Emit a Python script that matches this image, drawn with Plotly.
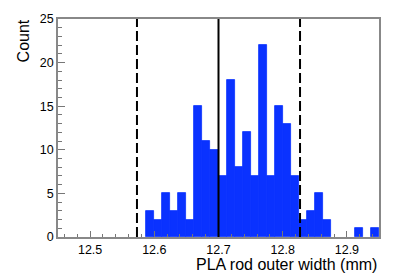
import numpy as np
import plotly.graph_objects as go

# Histogram data: 40 bins from 12.45 to 12.95 mm
bin_low = 12.45
bin_width = 0.0125
counts = [0, 0, 0, 0, 0, 0, 0, 0, 0, 0,
          0, 3, 2, 5, 3, 5, 2, 15, 11, 10,
          7, 18, 8, 12, 7, 22, 7, 15, 13, 7,
          2, 3, 5, 2, 0, 0, 0, 1, 0, 1]
nominal = 12.7
tol_low = 12.573
tol_high = 12.827
x_ticks = [12.5, 12.6, 12.7, 12.8, 12.9]
y_ticks = [0, 5, 10, 15, 20, 25]

centers = bin_low + bin_width * (np.arange(len(counts)) + 0.5)
bar_color = "#0a32ff"
edge_widths = [0.8 if c > 0 else 0 for c in counts]

fig = go.Figure()
fig.add_trace(go.Bar(
    x=centers, y=counts, width=bin_width,
    marker=dict(color=bar_color, line=dict(width=edge_widths, color=bar_color)),
    showlegend=False, hoverinfo="skip",
))

for xv, dash in [(tol_low, "10px,4px"), (nominal, "solid"), (tol_high, "10px,4px")]:
    fig.add_shape(type="line", xref="x", yref="y", x0=xv, x1=xv, y0=0, y1=25,
                  line=dict(color="black", width=2, dash=dash), layer="above")

font_family = "Liberation Sans, Arial, sans-serif"
fig.update_layout(
    width=399, height=268,
    margin=dict(l=50, r=28, t=11, b=39),
    paper_bgcolor="white", plot_bgcolor="white",
    bargap=0,
    font=dict(family=font_family, size=12, color="black"),
    xaxis=dict(range=[12.45, 12.95], tickvals=x_ticks,
               ticktext=[f"{v:.1f}" for v in x_ticks],
               ticks="inside", ticklen=6, tickcolor="#777", tickwidth=1,
               minor=dict(dtick=0.02, tick0=12.5, ticks="inside", ticklen=3, tickcolor="#777"),
               showline=True, linecolor="#888", linewidth=1.5, mirror=True,
               showgrid=False, zeroline=False, fixedrange=True, automargin=False,
               tickfont=dict(size=12.5)),
    yaxis=dict(range=[0, 25], tickvals=y_ticks,
               ticks="inside", ticklen=7, tickcolor="#777", tickwidth=1,
               minor=dict(dtick=1, ticks="inside", ticklen=4, tickcolor="#777"),
               showline=True, linecolor="#888", linewidth=1.5, mirror=True,
               showgrid=False, zeroline=False, fixedrange=True, automargin=False,
               tickfont=dict(size=12.5)),
    annotations=[
        dict(text="PLA rod outer width (mm)", xref="paper", yref="paper",
             x=1.0, y=-0.128, xanchor="right", yanchor="middle", showarrow=False,
             font=dict(size=16, family=font_family)),
        dict(text="Count", xref="paper", yref="paper", textangle=-90,
             x=-0.109, y=1.005, xanchor="center", yanchor="top", showarrow=False,
             font=dict(size=16, family=font_family)),
    ],
)

fig.write_html("out.html")
